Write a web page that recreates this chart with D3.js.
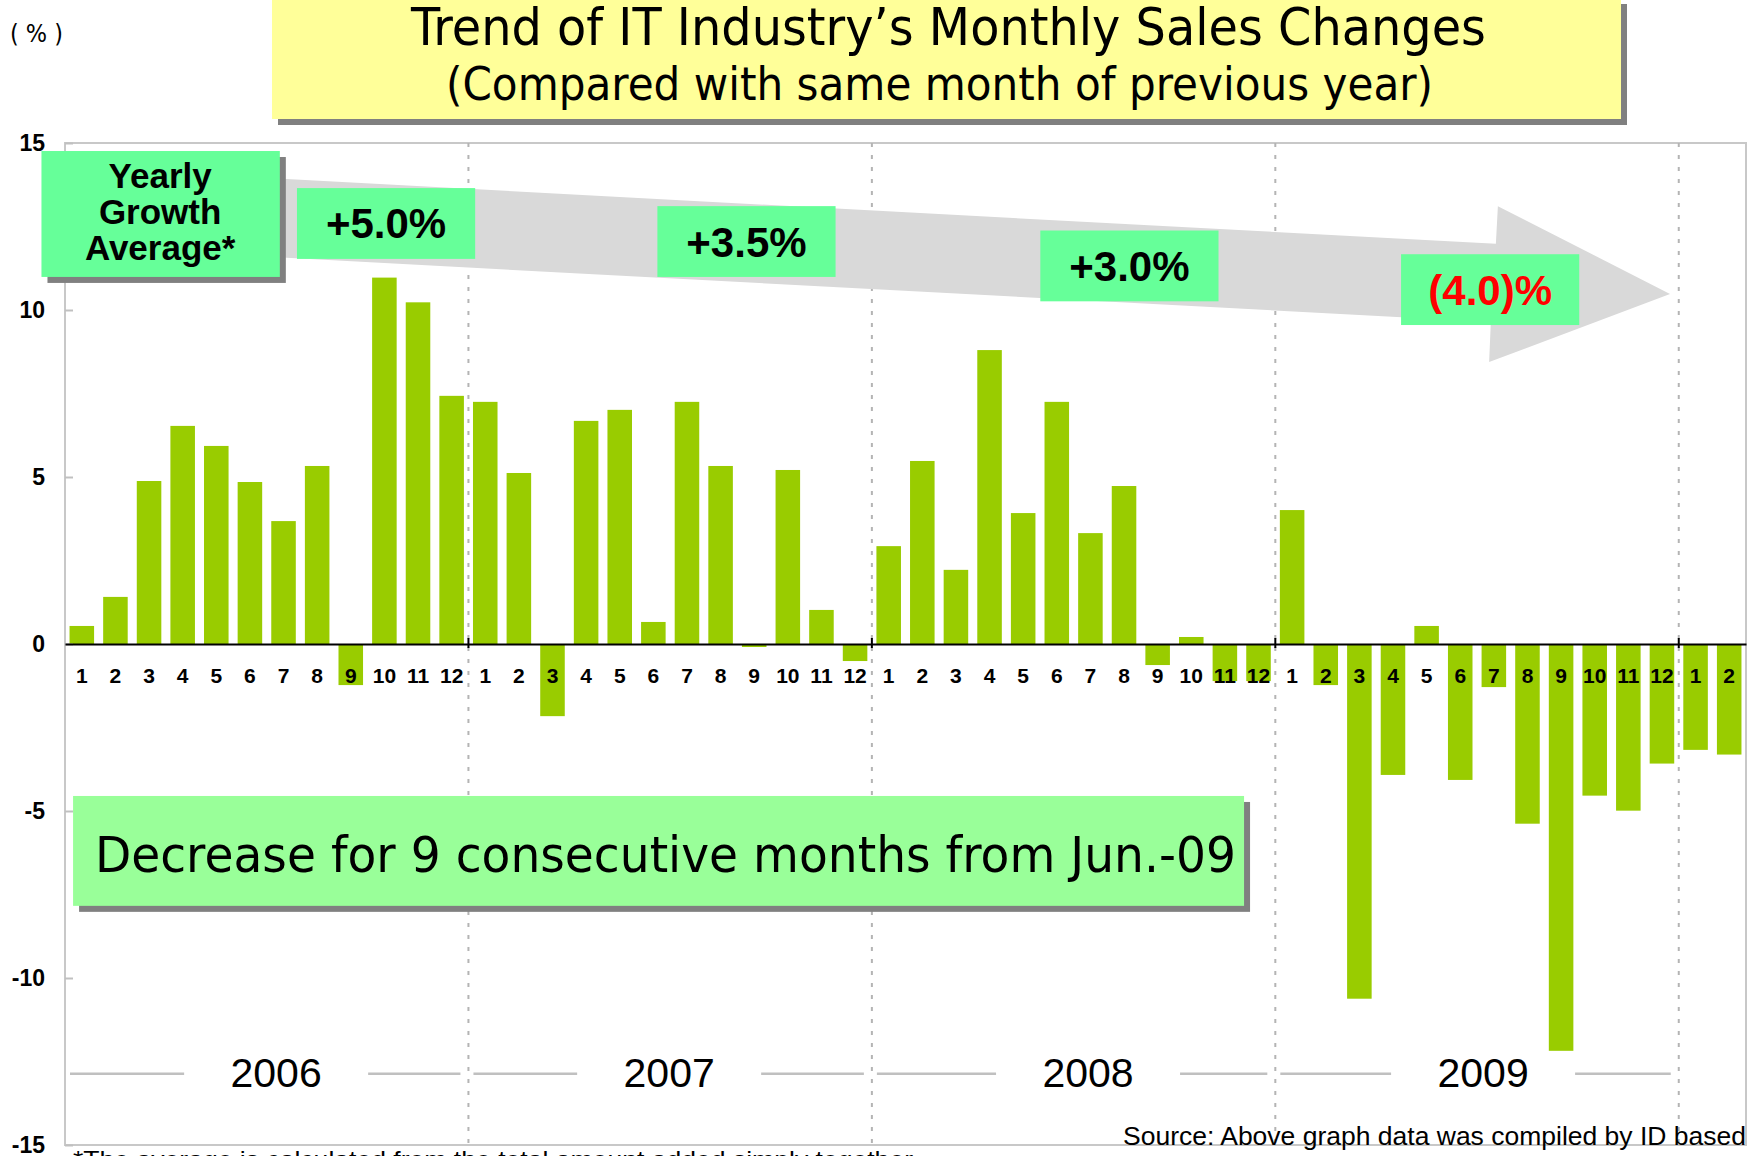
<!DOCTYPE html>
<html lang="en">
<head>
    <meta charset="UTF-8">
    <title>IT industry monthly sales changes</title>
    <script src="https://cdn.jsdelivr.net/npm/d3@7"></script>
    <style>
        body { margin: 0; background: #fff; }
    </style>
</head>
<body>
<svg id="chart" width="1757" height="1156"></svg>

<script>
    let years = ["2006", "2007", "2008", "2009"];
    let monthLabels = ["1", "2", "3", "4", "5", "6", "7", "8", "9", "10", "11", "12",
        "1", "2", "3", "4", "5", "6", "7", "8", "9", "10", "11", "12",
        "1", "2", "3", "4", "5", "6", "7", "8", "9", "10", "11", "12",
        "1", "2", "3", "4", "5", "6", "7", "8", "9", "10", "11", "12",
        "1", "2"];
    let sales2006 = [0.54, 1.41, 4.88, 6.53, 5.93, 4.85, 3.68, 5.33, -1.23, 10.97, 10.23, 7.43];
    let sales2007 = [7.25, 5.12, -2.16, 6.68, 7.01, 0.66, 7.25, 5.33, -0.09, 5.21, 1.02, -0.51];
    let sales2008 = [2.93, 5.48, 2.22, 8.80, 3.92, 7.25, 3.32, 4.73, -0.63, 0.21, -1.11, -1.11];
    let sales2009 = [4.01, -1.23, -10.62, -3.92, 0.54, -4.07, -1.29, -5.38, -12.18, -4.54, -4.99, -3.58];
    let sales2010 = [-3.17, -3.31];
    let yearlyAverage = [5.0, 3.5, 3.0, -4.0];
    let yTicks = [-15, -10, -5, 0, 5, 10, 15];

    let sales = [].concat(sales2006, sales2007, sales2008, sales2009, sales2010);

    let svg = d3.select("#chart");
    let plotLeft = 65, plotRight = 1746, plotTop = 143, plotBottom = 1145;
    let sans = "'Liberation Sans', Arial, sans-serif";
    let narrow = "'DejaVu Sans', Tahoma, sans-serif";

    let x = d3.scaleBand()
        .domain(d3.range(sales.length))
        .range([plotLeft, plotRight])
        .paddingInner(0.27)
        .paddingOuter(0.135);
    // month-index scale for boundaries and annotations
    let xm = d3.scaleLinear().domain([0, sales.length]).range([plotLeft, plotRight]);
    let y = d3.scaleLinear().domain([-15, 15]).range([plotBottom, plotTop]);

    // plot frame
    svg.append("rect")
        .attr("x", plotLeft).attr("y", plotTop)
        .attr("width", plotRight - plotLeft).attr("height", plotBottom - plotTop)
        .attr("fill", "none")
        .attr("stroke", "#c8c8c8")
        .attr("stroke-width", 2);

    let boundaries = years.slice(1).map((d, i) => (i + 1) * 12).concat([48]);

    svg.append("g").selectAll("line")
        .data(boundaries)
        .join("line")
        .attr("x1", d => xm(d)).attr("x2", d => xm(d))
        .attr("y1", plotTop).attr("y2", plotBottom)
        .attr("stroke", "#b4b4b4")
        .attr("stroke-width", 2)
        .attr("stroke-dasharray", "4,8");

    svg.append("g").selectAll("rect")
        .data(sales)
        .join("rect")
        .attr("x", (d, i) => x(i))
        .attr("width", x.bandwidth())
        .attr("y", d => y(Math.max(0, d)))
        .attr("height", d => Math.abs(y(d) - y(0)))
        .attr("fill", "#99cc00");

    let yAxis = svg.append("g")
        .attr("transform", `translate(${plotLeft},0)`)
        .call(d3.axisLeft(y).tickValues(yTicks).tickFormat(d => String(d)).tickSize(-8).tickPadding(20));
    yAxis.select(".domain").remove();
    yAxis.selectAll("line").attr("stroke", "#c0c0c0").attr("stroke-width", 2);
    yAxis.selectAll("text")
        .attr("font-family", sans)
        .attr("font-weight", "bold")
        .attr("font-size", 23)
        .attr("fill", "#000");

    let xAxis = svg.append("g")
        .attr("transform", `translate(0,${y(0)})`)
        .call(d3.axisBottom(x).tickFormat(i => monthLabels[i]).tickSize(0).tickPadding(24));
    xAxis.select(".domain").attr("stroke", "#000").attr("stroke-width", 2);
    xAxis.selectAll("text")
        .attr("font-family", sans)
        .attr("font-weight", "bold")
        .attr("font-size", 21)
        .attr("fill", "#000");

    svg.append("g").selectAll("line")
        .data(boundaries)
        .join("line")
        .attr("x1", d => xm(d)).attr("x2", d => xm(d))
        .attr("y1", y(0) - 6).attr("y2", y(0) + 4)
        .attr("stroke", "#000")
        .attr("stroke-width", 2);

    // big gray trend arrow
    let arrow = [[5.5, 13.98], [42.56, 11.98], [42.62, 13.11], [47.74, 10.48],
        [42.36, 8.44], [42.41, 9.64], [5.5, 11.62]];
    svg.append("polygon")
        .attr("points", arrow.map(p => [xm(p[0]), y(p[1])].join(",")).join(" "))
        .attr("fill", "#d9d9d9");

    function box(m0, v0, m1, v1, fill, shadow) {
        let bx = xm(m0), by = y(v0), bw = xm(m1) - xm(m0), bh = y(v1) - y(v0);
        if (shadow) {
            svg.append("rect")
                .attr("x", bx + 6).attr("y", by + 6)
                .attr("width", bw).attr("height", bh)
                .attr("fill", "#808080");
        }
        svg.append("rect")
            .attr("x", bx).attr("y", by)
            .attr("width", bw).attr("height", bh)
            .attr("fill", fill);
    }

    box(-0.7, 14.76, 6.39, 10.99, "#66ff99", true);
    svg.append("g").selectAll("text")
        .data(["Yearly", "Growth", "Average*"])
        .join("text")
        .attr("x", xm(2.83))
        .attr("y", (d, i) => y(13.65) + i * 36)
        .attr("text-anchor", "middle")
        .attr("font-family", sans)
        .attr("font-weight", "bold")
        .attr("font-size", 35)
        .text(d => d);

    let avgPos = [[9.55, 12.59], [20.27, 12.05], [31.66, 11.32], [42.39, 10.61]];
    yearlyAverage.forEach((d, i) => {
        let c = avgPos[i];
        box(c[0] - 2.65, c[1] + 1.06, c[0] + 2.65, c[1] - 1.06, "#66ff99", false);
        svg.append("text")
            .attr("x", xm(c[0]))
            .attr("y", y(c[1]) + 15)
            .attr("text-anchor", "middle")
            .attr("font-family", sans)
            .attr("font-weight", "bold")
            .attr("font-size", 42)
            .attr("fill", d < 0 ? "#ff0000" : "#000")
            .text(d < 0 ? `(${Math.abs(d).toFixed(1)})%` : `+${d.toFixed(1)}%`);
    });

    box(0.24, -4.55, 35.07, -7.84, "#99ff99", true);
    svg.append("text")
        .attr("x", xm(0.89))
        .attr("y", y(-6.83))
        .attr("font-family", narrow)
        .attr("font-size", 50)
        .attr("textLength", 1141)
        .attr("lengthAdjust", "spacingAndGlyphs")
        .text("Decrease for 9 consecutive months from Jun.-09");

    // year labels with side lines
    let yearCenters = [6.28, 17.97, 30.43, 42.18];
    years.forEach((d, i) => {
        let cx = xm(yearCenters[i]);
        let segs = [[xm(i * 12) + 5, cx - 92], [cx + 92, xm(i * 12 + 12) - 8]];
        svg.append("g").selectAll("line")
            .data(segs)
            .join("line")
            .attr("x1", s => s[0]).attr("x2", s => s[1])
            .attr("y1", y(-12.87)).attr("y2", y(-12.87))
            .attr("stroke", "#c0c0c0")
            .attr("stroke-width", 2.5);
        svg.append("text")
            .attr("x", cx)
            .attr("y", y(-13.26))
            .attr("text-anchor", "middle")
            .attr("font-family", sans)
            .attr("font-size", 41)
            .text(d);
    });

    // title
    svg.append("rect").attr("x", 278).attr("y", 4).attr("width", 1349).attr("height", 121).attr("fill", "#808080");
    svg.append("rect").attr("x", 272).attr("y", -2).attr("width", 1349).attr("height", 121).attr("fill", "#ffff99");
    svg.append("text")
        .attr("x", 411).attr("y", 45)
        .attr("font-family", narrow)
        .attr("font-size", 51)
        .attr("textLength", 1075)
        .attr("lengthAdjust", "spacingAndGlyphs")
        .text("Trend of IT Industry\u2019s Monthly Sales Changes");
    svg.append("text")
        .attr("x", 446).attr("y", 100)
        .attr("font-family", narrow)
        .attr("font-size", 46)
        .attr("textLength", 987)
        .attr("lengthAdjust", "spacingAndGlyphs")
        .text("(Compared with same month of previous year)");

    svg.append("text")
        .attr("x", 10).attr("y", 42)
        .attr("font-family", narrow)
        .attr("font-size", 24)
        .attr("textLength", 53)
        .attr("lengthAdjust", "spacingAndGlyphs")
        .text("( % )");

    svg.append("text")
        .attr("x", 1123).attr("y", 1145)
        .attr("font-family", sans)
        .attr("font-size", 25)
        .attr("textLength", 623)
        .attr("lengthAdjust", "spacingAndGlyphs")
        .text("Source: Above graph data was compiled by ID based");

    svg.append("text")
        .attr("x", 73).attr("y", 1168)
        .attr("font-family", sans)
        .attr("font-size", 24)
        .attr("textLength", 840)
        .attr("lengthAdjust", "spacingAndGlyphs")
        .text("*The average is calculated from the total amount added simply together");
</script>
</body>
</html>
